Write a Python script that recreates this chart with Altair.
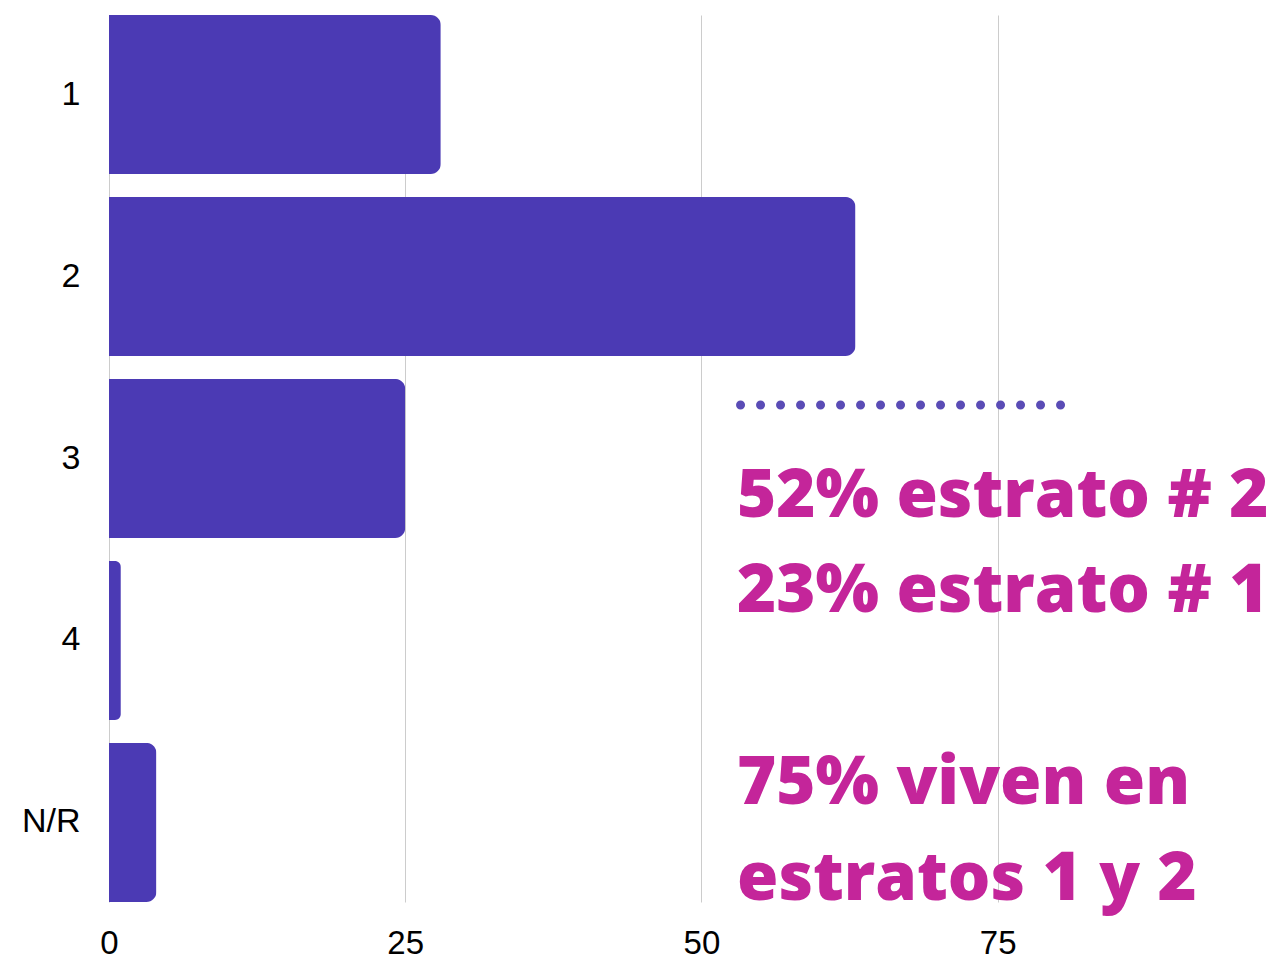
import altair as alt
import pandas as pd

# Bar data
categories = ["1", "2", "3", "4", "N/R"]
counts = [28, 63, 25, 1, 4]

# Axis ticks
x_ticks = [0, 25, 50, 75]

# Annotation text (x in data units, row in band-step units from the top)
note_lines = ["52% estrato # 2", "23% estrato # 1", "75% viven en", "estratos 1 y 2"]
note_x = [53.0, 53.0, 53.0, 53.0]
note_row = [2.758, 3.280, 4.335, 4.863]

# Dotted separator
dots_x = [53.3]
dots_x2 = [80.5]
dots_row = [2.143]

bars_df = pd.DataFrame({"cat": categories, "count": counts})
notes_df = pd.DataFrame({"text": note_lines, "x": note_x, "row": note_row})
dots_df = pd.DataFrame({"x": dots_x, "x2": dots_x2, "row": dots_row})

x_scale = alt.Scale(domain=[0, 97.9], nice=False)
row_scale = alt.Scale(domain=[0, 4.874], reverse=True, nice=False, zero=False)

bars = alt.Chart(bars_df).mark_bar(
    color="#4b3ab4", cornerRadiusEnd=10
).encode(
    x=alt.X("count:Q", scale=x_scale,
            axis=alt.Axis(values=x_ticks, title=None, labelFontSize=33,
                          labelFont="Liberation Sans", labelColor="black",
                          labelPadding=25, ticks=False, domain=False,
                          gridColor="#cccccc", gridWidth=1, labelFlush=False)),
    y=alt.Y("cat:N", sort=categories,
            scale=alt.Scale(paddingInner=0.126, paddingOuter=0),
            axis=alt.Axis(title=None, labelFontSize=34, labelFont="Liberation Sans",
                          labelColor="black", labelPadding=29, ticks=False,
                          domain=False, grid=False, minExtent=96)),
)

dots = alt.Chart(dots_df).mark_rule(
    strokeWidth=9, strokeCap="round", strokeDash=[0, 20], color="#5a4cb6"
).encode(
    x=alt.X("x:Q", scale=x_scale),
    x2="x2:Q",
    y=alt.Y("row:Q", scale=row_scale, axis=None),
)

notes = alt.Chart(notes_df).mark_text(
    align="left", baseline="alphabetic", font="Open Sans", fontWeight=800,
    fontSize=67, color="#c4259a"
).encode(
    x=alt.X("x:Q", scale=x_scale),
    y=alt.Y("row:Q", scale=row_scale, axis=None),
    text="text:N",
)

chart = alt.layer(bars, dots, notes).resolve_scale(y="independent").properties(
    width=1160, height=887,
    padding={"left": 5, "top": 7, "right": 0, "bottom": 0},
).configure_view(stroke=None)

chart.save("out.html", embed_options={"renderer": "svg", "actions": False})
